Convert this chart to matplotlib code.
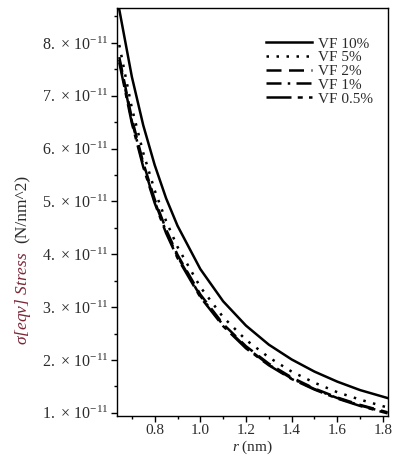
import matplotlib
matplotlib.use("Agg")
import matplotlib.pyplot as plt
from matplotlib.ticker import MultipleLocator, FixedLocator

r = [0.645, 0.7, 0.75, 0.8, 0.85, 0.9, 1.0, 1.1, 1.2, 1.3, 1.4, 1.5, 1.6, 1.7, 1.82]
vf10 = [8.63, 7.36, 6.44, 5.69, 5.06, 4.54, 3.72, 3.11, 2.65, 2.29, 2.01, 1.78, 1.59, 1.43, 1.28]
vf5 = [7.96, 6.77, 5.92, 5.21, 4.63, 4.14, 3.38, 2.81, 2.38, 2.05, 1.78, 1.57, 1.39, 1.25, 1.10]
vf2 = [7.73, 6.57, 5.73, 5.04, 4.47, 3.99, 3.24, 2.68, 2.26, 1.93, 1.67, 1.46, 1.29, 1.15, 1.01]
vf1 = [7.68, 6.52, 5.69, 5.00, 4.43, 3.96, 3.21, 2.66, 2.24, 1.91, 1.65, 1.45, 1.28, 1.14, 1.00]
vf05 = [7.63, 6.48, 5.65, 4.97, 4.40, 3.93, 3.19, 2.64, 2.22, 1.90, 1.64, 1.44, 1.27, 1.13, 0.99]

labels = ["VF 10%", "VF 5%", "VF 2%", "VF 1%", "VF 0.5%"]
series = [vf10, vf5, vf2, vf1, vf05]
styles = ["-", (0, (1, 3)), (0, (6, 3)), (0, (6, 2.5, 1, 2.5)), (0, (10, 2.5, 2, 2.5))]

xticks = [0.8, 1.0, 1.2, 1.4, 1.6, 1.8]
yticks = [1, 2, 3, 4, 5, 6, 7, 8]

plt.rcParams['font.family'] = ['Liberation Serif', 'DejaVu Serif']
plt.rcParams['mathtext.fontset'] = 'custom'
plt.rcParams['mathtext.rm'] = 'Liberation Serif'
plt.rcParams['mathtext.it'] = 'Liberation Serif:italic'

fig = plt.figure(figsize=(3.93, 4.59), dpi=100)
ax = fig.add_axes([117/393, 43/459, (388-117)/393, (451-43)/459])

for s, lab, ls in zip(series, labels, styles):
    ax.plot(r, s, color='black', lw=1.8, linestyle=ls, label=lab)

ax.set_xlim(0.635, 1.822)
ax.set_ylim(0.94, 8.66)

ax.xaxis.set_major_locator(FixedLocator(xticks))
ax.xaxis.set_minor_locator(MultipleLocator(0.1))
ax.yaxis.set_major_locator(FixedLocator(yticks))
ax.yaxis.set_minor_locator(MultipleLocator(0.5))
ax.set_xticklabels([f"{v:.1f}" for v in xticks], fontsize=11)
ax.set_yticklabels([rf"$\mathregular{{{v}.\,\times\,10^{{-11}}}}$" for v in yticks], fontsize=11.5)

tc = '#2b2b2b'
ax.tick_params(which='major', direction='out', length=4, width=1, colors='black',
               labelcolor=tc, pad=2)
ax.tick_params(which='minor', direction='out', length=2.5, width=1, colors='black')
for sp in ax.spines.values():
    sp.set_linewidth(1.0)

ax.set_xlabel(r"$\mathit{r}$ (nm)", fontsize=11, color=tc, labelpad=1)

t1 = fig.text(23/393, 1 - 345/459, r"$\sigma$[eqv] Stress", rotation=90, ha='center', va='bottom',
              fontsize=12.5, style='italic', color='#7b2535')
fig.canvas.draw()
bb = t1.get_window_extent()
fig.text(23/393, (bb.y1 + 8)/459, "(N/nm^2)", rotation=90, ha='center', va='bottom',
         fontsize=12.5, color=tc)

leg = ax.legend(loc='upper right', bbox_to_anchor=(0.985, 0.955), frameon=False,
                fontsize=11, handlelength=3.0, handletextpad=0.4,
                labelspacing=0.0, borderaxespad=0.3)
for t in leg.get_texts():
    t.set_color(tc)

fig.savefig("out.png", dpi=100)
